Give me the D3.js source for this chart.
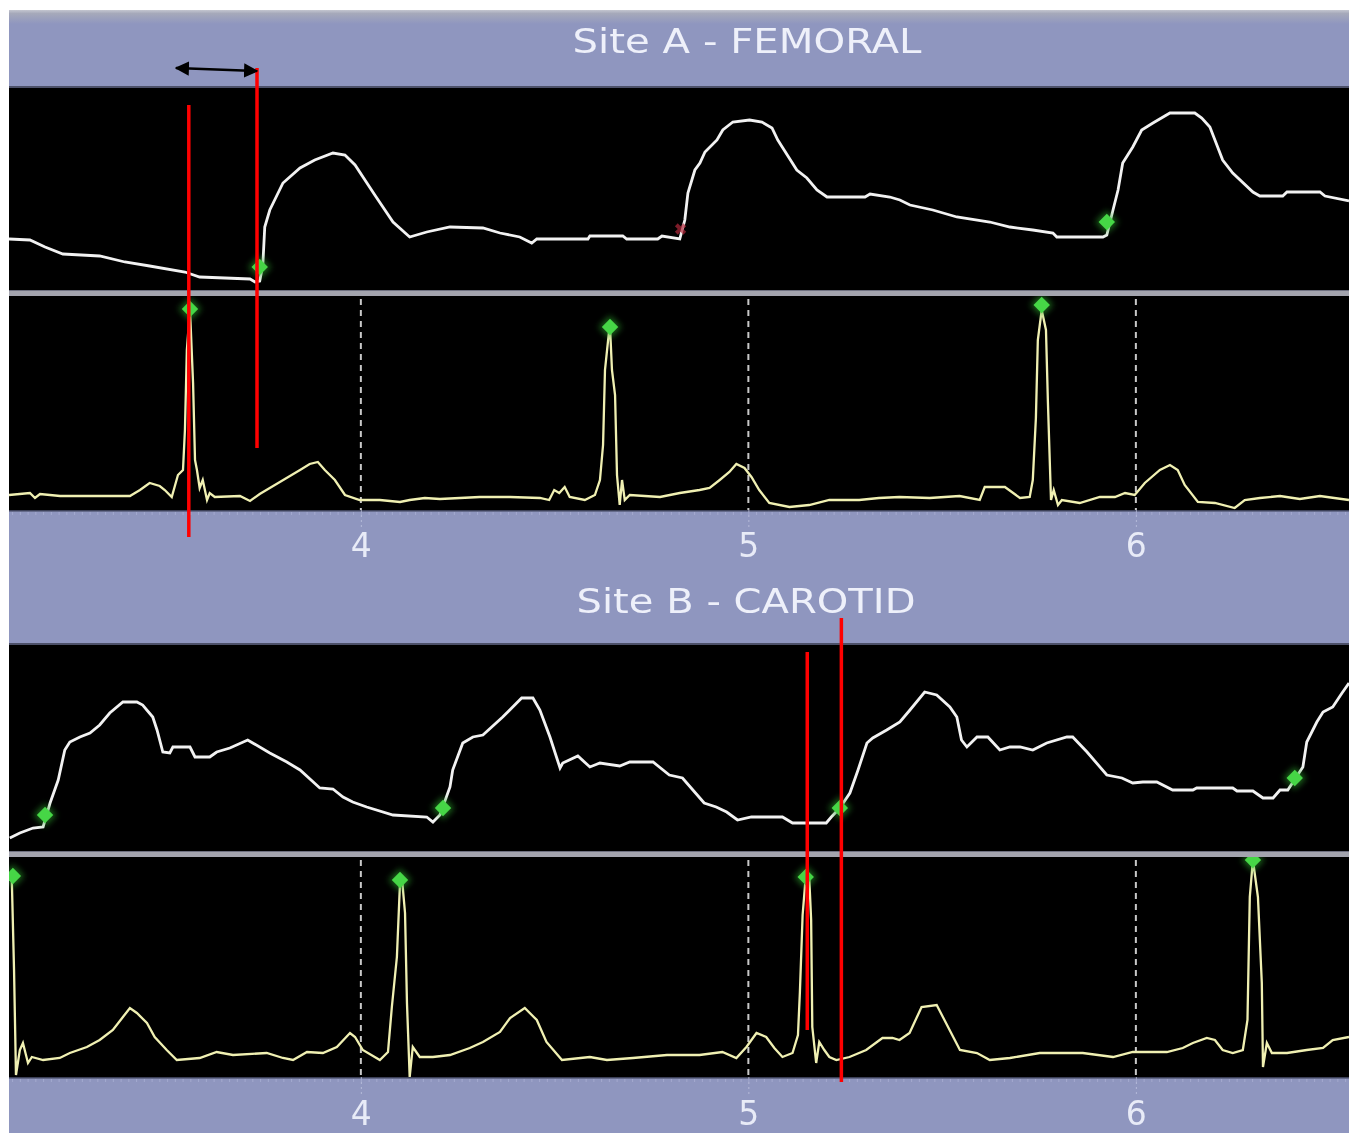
<!DOCTYPE html>
<html>
<head>
<meta charset="utf-8">
<script src="https://cdn.jsdelivr.net/npm/d3@7"></script>
<style>
  body { margin: 0; background: #fff; }
  svg { display: block; }
</style>
</head>
<body>
<div id="chart"></div>
<script>
// ---- data (time in s, amplitude in arbitrary units above panel baseline) ----
var timeRange = [3.092, 6.55];
var tickValues = [4, 5, 6];
var siteTitles = ["Site A - FEMORAL", "Site B - CAROTID"];

var pressureA = [
  [3.092,51],[3.146,50],[3.185,43],[3.231,36],[3.326,34],[3.391,28],[3.455,24],[3.546,18],
  [3.584,13],[3.714,11],[3.727,8],[3.739,9],[3.747,25],[3.752,63],[3.765,80],[3.799,107],
  [3.843,122],[3.881,130],[3.928,137],[3.959,135],[3.985,125],[4.036,95],[4.083,68],[4.126,53],
  [4.170,58],[4.230,63],[4.315,62],[4.359,57],[4.410,53],[4.441,47],[4.454,51],[4.586,51],
  [4.591,54],[4.676,54],[4.686,51],[4.766,51],[4.777,54],[4.823,51],[4.836,70],[4.844,97],
  [4.862,120],[4.875,127],[4.888,138],[4.919,150],[4.934,160],[4.960,168],[5.003,170],[5.035,168],
  [5.061,162],[5.076,150],[5.089,142],[5.125,120],[5.151,112],[5.177,100],[5.203,93],[5.301,93],
  [5.314,96],[5.365,93],[5.391,90],[5.417,85],[5.476,80],[5.538,73],[5.623,68],[5.675,63],
  [5.734,60],[5.786,57],[5.796,53],[5.915,53],[5.925,55],[5.941,80],[5.954,100],[5.966,127],
  [5.992,143],[6.015,160],[6.044,167],[6.088,177],[6.152,177],[6.170,172],[6.191,163],[6.204,150],
  [6.224,130],[6.250,117],[6.302,98],[6.320,94],[6.379,94],[6.390,98],[6.475,98],[6.488,94],[6.550,89]
];
var ecgA = [
  [3.092,15],[3.146,17],[3.159,12],[3.172,16],[3.224,14],[3.404,14],[3.430,20],[3.455,27],
  [3.481,24],[3.494,20],[3.512,13],[3.528,35],[3.541,40],[3.546,80],[3.551,160],[3.559,201],
  [3.567,127],[3.572,50],[3.577,40],[3.584,22],[3.592,30],[3.603,10],[3.610,17],[3.623,13],
  [3.688,14],[3.714,9],[3.739,16],[3.791,28],[3.843,40],[3.868,46],[3.889,48],[3.907,40],
  [3.933,30],[3.959,15],[3.997,10],[4.049,10],[4.101,8],[4.126,10],[4.165,12],[4.204,11],
  [4.307,13],[4.385,13],[4.462,12],[4.486,10],[4.499,20],[4.512,17],[4.526,23],[4.539,13],
  [4.578,10],[4.604,15],[4.617,30],[4.625,65],[4.630,140],[4.640,177],[4.643,183],[4.648,140],
  [4.656,115],[4.661,35],[4.668,5],[4.674,30],[4.681,10],[4.694,15],[4.772,13],[4.823,17],
  [4.874,20],[4.900,22],[4.926,30],[4.951,38],[4.969,46],[4.990,42],[5.008,33],[5.028,20],
  [5.054,7],[5.106,3],[5.157,5],[5.209,10],[5.286,10],[5.337,12],[5.390,13],[5.468,12],
  [5.545,14],[5.597,10],[5.610,23],[5.662,23],[5.701,12],[5.726,13],[5.734,30],[5.742,92],
  [5.747,170],[5.757,200],[5.768,180],[5.773,108],[5.781,10],[5.788,20],[5.799,5],[5.809,10],
  [5.855,7],[5.907,13],[5.946,13],[5.972,17],[5.997,15],[6.023,27],[6.062,40],[6.088,45],
  [6.108,40],[6.126,25],[6.160,8],[6.204,7],[6.255,2],[6.281,10],[6.320,12],[6.372,14],
  [6.423,11],[6.475,14],[6.550,10]
];
var pressureB = [
  [3.094,13],[3.120,18],[3.154,23],[3.180,24],[3.198,48],[3.219,71],[3.236,101],[3.249,109],
  [3.275,114],[3.301,118],[3.326,126],[3.352,138],[3.386,149],[3.422,149],[3.437,146],[3.463,134],
  [3.474,121],[3.489,99],[3.507,98],[3.515,104],[3.559,104],[3.572,94],[3.610,94],[3.628,99],
  [3.662,103],[3.708,111],[3.721,108],[3.765,98],[3.809,89],[3.843,81],[3.894,63],[3.928,62],
  [3.954,54],[3.979,49],[4.015,44],[4.083,36],[4.170,34],[4.186,29],[4.204,36],[4.230,64],
  [4.237,81],[4.263,108],[4.289,114],[4.315,116],[4.366,134],[4.415,153],[4.444,153],[4.462,141],
  [4.488,114],[4.514,83],[4.521,88],[4.560,95],[4.591,84],[4.617,88],[4.668,85],[4.694,89],
  [4.754,89],[4.796,76],[4.830,73],[4.886,48],[4.917,44],[4.944,39],[4.972,31],[5.008,34],
  [5.088,34],[5.114,28],[5.201,28],[5.214,34],[5.236,43],[5.262,58],[5.283,81],[5.306,108],
  [5.321,113],[5.357,121],[5.391,129],[5.417,141],[5.455,159],[5.486,156],[5.520,144],[5.538,134],
  [5.550,111],[5.564,104],[5.590,114],[5.618,114],[5.649,101],[5.675,104],[5.701,104],[5.734,101],
  [5.770,108],[5.822,114],[5.837,114],[5.874,99],[5.925,76],[5.964,73],[5.992,68],[6.018,69],
  [6.054,69],[6.095,61],[6.147,61],[6.157,63],[6.250,63],[6.261,60],[6.302,60],[6.328,53],
  [6.354,53],[6.372,61],[6.392,61],[6.431,84],[6.441,109],[6.467,129],[6.483,139],[6.508,144],
  [6.532,158],[6.550,168]
];
var ecgB = [
  [3.092,197],[3.099,201],[3.105,107],[3.110,2],[3.120,27],[3.128,34],[3.141,14],[3.151,20],
  [3.180,17],[3.223,19],[3.249,24],[3.293,30],[3.326,37],[3.360,47],[3.386,60],[3.404,69],
  [3.422,64],[3.448,54],[3.468,40],[3.499,27],[3.525,17],[3.584,19],[3.628,25],[3.670,22],
  [3.757,24],[3.799,19],[3.825,17],[3.861,25],[3.902,24],[3.938,30],[3.972,44],[3.985,40],
  [4.005,27],[4.049,17],[4.070,25],[4.080,70],[4.093,120],[4.101,194],[4.106,199],[4.114,164],
  [4.119,74],[4.126,0],[4.134,30],[4.152,20],[4.186,20],[4.230,22],[4.281,29],[4.315,35],
  [4.359,45],[4.385,59],[4.423,69],[4.454,57],[4.479,35],[4.519,17],[4.591,20],[4.635,17],
  [4.702,19],[4.790,22],[4.874,22],[4.933,25],[4.969,19],[4.995,30],[5.021,44],[5.046,40],
  [5.067,29],[5.088,20],[5.114,24],[5.128,42],[5.133,85],[5.140,162],[5.148,200],[5.157,200],
  [5.162,157],[5.165,50],[5.175,14],[5.183,35],[5.196,27],[5.209,20],[5.227,17],[5.261,20],
  [5.304,27],[5.346,39],[5.372,39],[5.390,37],[5.416,44],[5.447,70],[5.486,72],[5.502,60],
  [5.546,27],[5.590,24],[5.623,17],[5.675,19],[5.752,24],[5.863,24],[5.941,20],[5.992,25],
  [6.080,25],[6.121,29],[6.147,34],[6.183,39],[6.204,37],[6.224,27],[6.250,24],[6.276,27],
  [6.288,57],[6.294,180],[6.302,217],[6.315,180],[6.325,94],[6.328,10],[6.338,34],[6.351,24],
  [6.390,24],[6.441,27],[6.483,29],[6.508,37],[6.550,40]
];

// detected points (green) and rejected foot (red)
var pressureMarksA = [[3.739,23],[5.925,68]];
var rejectedMarksA = [[4.825,61]];
var ecgMarksA = [[3.559,201],[4.643,183],[5.757,205]];
var pressureMarksB = [[3.185,36],[4.212,43],[5.236,43],[6.410,73]];
var ecgMarksB = [[3.102,201],[4.101,197],[5.148,200],[6.302,217]];

// hand drawn annotations
var annotationTimes = [3.556, 3.732, 5.152, 5.240];
var arrowTimes = [3.523, 3.732];

// ---- layout ----
var W = 1349, H = 1133, frameLeft = 9;
var annotationSpans = [[105, 537], [68, 448], [652, 1030], [618, 1082]];
var arrowY = [68, 71];

var sites = [
  {title: siteTitles[0], titleX: 747, titleY: 53, titleW: 349, p: [88, 290], e: [296, 510], axisY: 557,
   pressure: pressureA, ecg: ecgA, pMarks: pressureMarksA, eMarks: ecgMarksA, rejected: rejectedMarksA},
  {title: siteTitles[1], titleX: 746, titleY: 613, titleW: 339, p: [645, 851], e: [857, 1077], axisY: 1125,
   pressure: pressureB, ecg: ecgB, pMarks: pressureMarksB, eMarks: ecgMarksB, rejected: []}
];

var svg = d3.select("#chart").append("svg")
  .attr("width", W).attr("height", H);

var defs = svg.append("defs");
var grad = defs.append("linearGradient").attr("id", "topfade")
  .attr("x1", 0).attr("y1", 0).attr("x2", 0).attr("y2", 1);
grad.append("stop").attr("offset", "0%").attr("stop-color", "#c4c6d0");
grad.append("stop").attr("offset", "25%").attr("stop-color", "#a6a9ba");
grad.append("stop").attr("offset", "100%").attr("stop-color", "#8f96bf");

var glow = defs.append("filter").attr("id", "glow")
  .attr("x", "-100%").attr("y", "-100%").attr("width", "300%").attr("height", "300%");
glow.append("feGaussianBlur").attr("stdDeviation", 3);

var soft = defs.append("filter").attr("id", "soft");
soft.append("feGaussianBlur").attr("stdDeviation", 0.45);

var x = d3.scaleLinear().domain(timeRange).range([frameLeft, W]);

// lavender frame
svg.append("rect")
  .attr("x", frameLeft).attr("y", 10).attr("width", W - frameLeft).attr("height", H - 10)
  .attr("fill", "#8f96bf");
svg.append("rect")
  .attr("x", frameLeft).attr("y", 10).attr("width", W - frameLeft).attr("height", 14)
  .attr("fill", "url(#topfade)");

var line = d3.line();

sites.forEach(function(s, i) {
  var g = svg.append("g").attr("class", "site" + i);

  // title
  g.append("text")
    .attr("x", s.titleX)
    .attr("y", s.titleY)
    .attr("text-anchor", "middle")
    .attr("textLength", s.titleW)
    .attr("lengthAdjust", "spacingAndGlyphs")
    .attr("fill", "#eef0fa")
    .attr("filter", "url(#soft)")
    .style("font-family", "DejaVu Sans")
    .style("font-size", "34px")
    .text(s.title);

  var yP = d3.scaleLinear().domain([0, s.p[1] - s.p[0]]).range([s.p[1], s.p[0]]);
  var yE = d3.scaleLinear().domain([0, s.e[1] - s.e[0]]).range([s.e[1], s.e[0]]);

  // panels
  g.append("rect").attr("x", frameLeft).attr("y", s.p[0] - 2).attr("width", W - frameLeft).attr("height", 2)
    .attr("fill", "#4c5068");
  g.append("rect").attr("x", frameLeft).attr("y", s.p[0]).attr("width", W - frameLeft)
    .attr("height", s.p[1] - s.p[0]).attr("fill", "#000");
  g.append("rect").attr("x", frameLeft).attr("y", s.p[1]).attr("width", W - frameLeft)
    .attr("height", s.e[0] - s.p[1]).attr("fill", "#a3a4ae");
  g.append("rect").attr("x", frameLeft).attr("y", s.p[1]).attr("width", W - frameLeft)
    .attr("height", 1).attr("fill", "#6e7080");
  g.append("rect").attr("x", frameLeft).attr("y", s.e[0]).attr("width", W - frameLeft)
    .attr("height", s.e[1] - s.e[0]).attr("fill", "#000");
  g.append("rect").attr("x", frameLeft).attr("y", s.e[1]).attr("width", W - frameLeft)
    .attr("height", 1.5).attr("fill", "#3c4058");

  // clips
  defs.append("clipPath").attr("id", "clipP" + i).append("rect")
    .attr("x", frameLeft).attr("y", s.p[0]).attr("width", W - frameLeft).attr("height", s.p[1] - s.p[0]);
  defs.append("clipPath").attr("id", "clipE" + i).append("rect")
    .attr("x", frameLeft).attr("y", s.e[0]).attr("width", W - frameLeft).attr("height", s.e[1] - s.e[0]);

  // dashed grid in ECG panel
  g.append("g").selectAll("line").data(tickValues).join("line")
    .attr("x1", d => x(d)).attr("x2", d => x(d))
    .attr("y1", s.e[0] + 3).attr("y2", s.e[1])
    .attr("stroke", "#c8c8c8").attr("stroke-width", 2).attr("stroke-dasharray", "6,5");

  // axis
  var ax = g.append("g").attr("transform", "translate(0," + s.e[1] + ")")
    .call(d3.axisBottom(x).tickValues(tickValues).tickSize(18).tickFormat(d3.format("d")));
  ax.select(".domain").remove();
  ax.selectAll(".tick line").attr("stroke", "#c6cae4").attr("stroke-dasharray", "2,3").attr("opacity", 0.7);
  ax.selectAll(".tick text")
    .attr("y", s.axisY - s.e[1]).attr("dy", 0)
    .attr("fill", "#e8ebf7").attr("filter", "url(#soft)")
    .style("font-family", "DejaVu Sans").style("font-size", "33px");

  // minor tick row
  var minor = g.append("g").attr("transform", "translate(0," + (s.e[1] + 2) + ")")
    .call(d3.axisBottom(x).ticks(140).tickSize(3).tickFormat(""));
  minor.select(".domain").remove();
  minor.selectAll(".tick line").attr("stroke", "#b3b8da").attr("opacity", 0.6);

  // traces
  g.append("path").datum(s.pressure)
    .attr("clip-path", "url(#clipP" + i + ")")
    .attr("d", line.x(d => x(d[0])).y(d => yP(d[1])))
    .attr("fill", "none").attr("stroke", "#f2f2f2").attr("stroke-width", 2.8)
    .attr("stroke-linejoin", "miter");
  g.append("path").datum(s.ecg)
    .attr("clip-path", "url(#clipE" + i + ")")
    .attr("d", line.x(d => x(d[0])).y(d => yE(d[1])))
    .attr("fill", "none").attr("stroke", "#f0f0b2").attr("stroke-width", 2.3);

  // markers
  function drawMarks(data, yS, clip) {
    var mg = g.append("g").attr("clip-path", "url(#" + clip + ")");
    mg.selectAll("path.halo").data(data).join("path").attr("class", "halo")
      .attr("d", d3.symbol().type(d3.symbolSquare).size(260))
      .attr("transform", d => "translate(" + x(d[0]) + "," + yS(d[1]) + ") rotate(45)")
      .attr("fill", "#2fa82f").attr("opacity", 0.6).attr("filter", "url(#glow)");
    mg.selectAll("path.core").data(data).join("path").attr("class", "core")
      .attr("d", d3.symbol().type(d3.symbolSquare).size(135))
      .attr("transform", d => "translate(" + x(d[0]) + "," + yS(d[1]) + ") rotate(45)")
      .attr("fill", "#46d646");
  }
  drawMarks(s.pMarks, yP, "clipP" + i);
  drawMarks(s.eMarks, yE, "clipE" + i);

  g.selectAll("path.rej").data(s.rejected).join("path").attr("class", "rej")
    .attr("d", d3.symbol().type(d3.symbolCross).size(80))
    .attr("transform", d => "translate(" + x(d[0]) + "," + yP(d[1]) + ") rotate(45)")
    .attr("fill", "#b0283a").attr("opacity", 0.7);
});

// red annotation lines
svg.append("g").selectAll("line").data(annotationTimes).join("line")
  .attr("x1", d => x(d)).attr("x2", d => x(d))
  .attr("y1", (d, i) => annotationSpans[i][0]).attr("y2", (d, i) => annotationSpans[i][1])
  .attr("stroke", "#ff0000").attr("stroke-width", 3.5);

// double-headed arrow
var mk = defs.append("marker").attr("id", "ah").attr("viewBox", "0 0 10 10")
  .attr("refX", 9).attr("refY", 5).attr("markerWidth", 6).attr("markerHeight", 6)
  .attr("orient", "auto-start-reverse").attr("markerUnits", "strokeWidth");
mk.append("path").attr("d", "M0,0L10,5L0,10z").attr("fill", "#000");
svg.append("line")
  .attr("x1", x(arrowTimes[0])).attr("y1", arrowY[0])
  .attr("x2", x(arrowTimes[1])).attr("y2", arrowY[1])
  .attr("stroke", "#000").attr("stroke-width", 2.4)
  .attr("marker-start", "url(#ah)").attr("marker-end", "url(#ah)");
</script>
</body>
</html>
